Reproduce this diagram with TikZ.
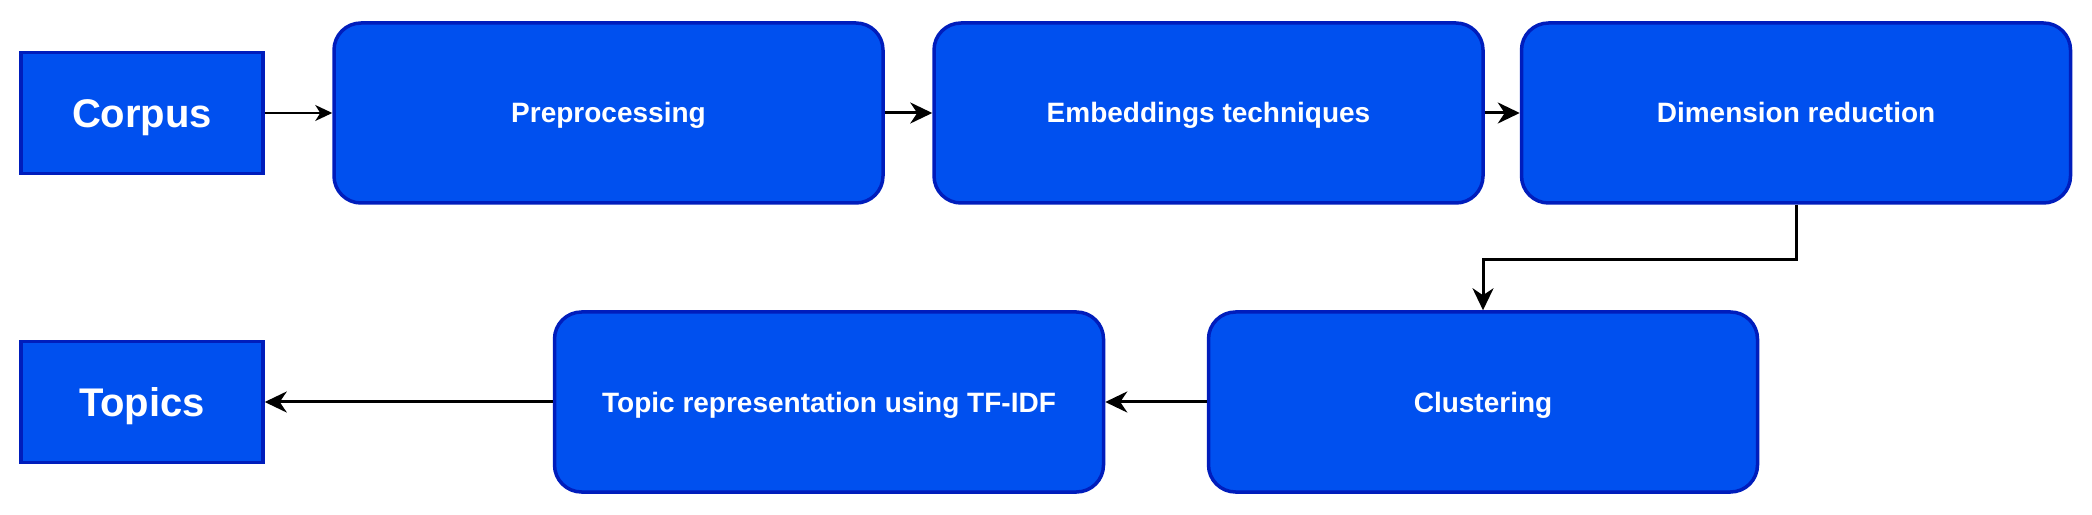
\documentclass[tikz,border=0pt]{standalone}
\usepackage{fontspec}
\setmainfont{Liberation Sans}
\usetikzlibrary{arrows.meta,calc}
\definecolor{boxfill}{HTML}{0050EF}
\definecolor{boxline}{HTML}{001DBC}
\begin{document}
\begin{tikzpicture}[x=1pt,y=1pt,
  base/.style={draw=boxline,fill=boxfill,line width=3.5pt,text=white,inner sep=0pt},
  endbox/.style={base,minimum width=242pt,minimum height=121pt,font=\bfseries\fontsize{40}{46}\selectfont,text height=28.6pt,text depth=0pt},
  stepbox/.style={base,rounded corners=27pt,minimum width=549pt,minimum height=180pt,font=\bfseries\fontsize{28}{32}\selectfont,text height=20pt,text depth=0pt},
  conn/.style={line width=3pt,-{Stealth[length=22pt,width=21pt,inset=7pt]}},
  thinconn/.style={line width=1.5pt,-{Stealth[length=17pt,width=16pt,inset=5pt]}}]
\useasboundingbox (0,0) rectangle (2092,514);
\node[endbox] (corpus) at (142,401) {Corpus};
\node[stepbox] (pre) at (608.5,401) {Preprocessing};
\node[stepbox] (emb) at (1208.5,401) {Embeddings techniques};
\node[stepbox] (dim) at (1796,401) {Dimension reduction};
\node[stepbox] (clus) at (1483,112) {Clustering};
\node[stepbox] (rep) at (829,112) {Topic representation using TF-IDF};
\node[endbox] (topics) at (142,112) {Topics};
\draw[thinconn] (corpus.east) -- (pre.west);
\draw[conn] (pre.east) -- (emb.west);
\draw[conn] (emb.east) -- (dim.west);
\draw[conn] (dim.south) -- ++(0,-54.5) -| (clus.north);
\draw[conn] (clus.west) -- (rep.east);
\draw[conn] (rep.west) -- (topics.east);
\end{tikzpicture}
\end{document}
